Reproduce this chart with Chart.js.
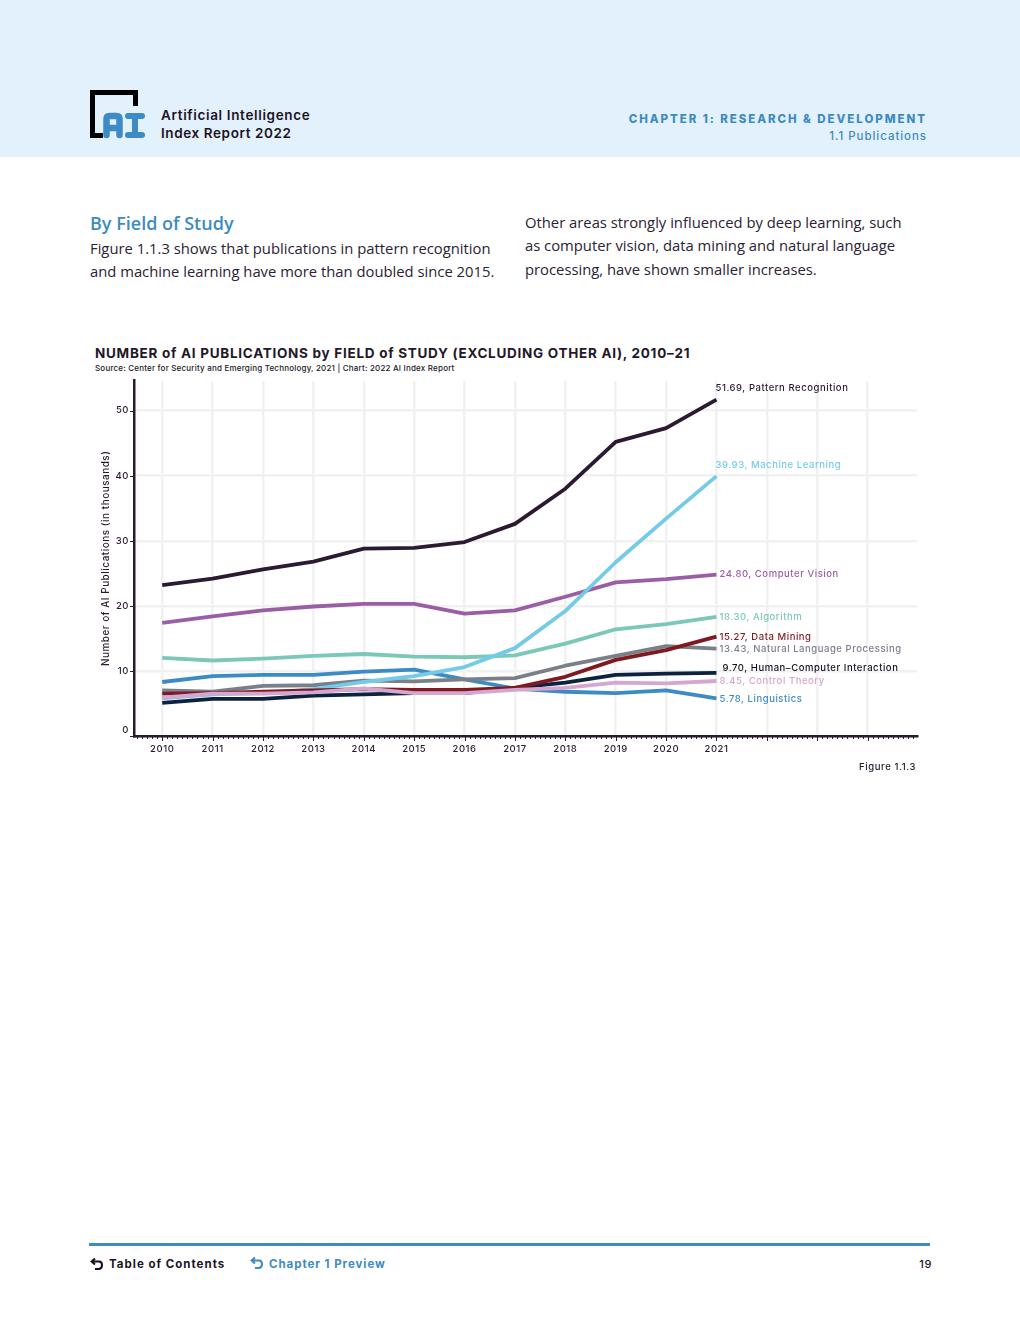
<!DOCTYPE html>
<html>
<head>
<meta charset="utf-8">
<title>AI Index Report 2022</title>
<script src="https://cdn.jsdelivr.net/npm/chart.js@4"></script>
<style>
  html, body { margin: 0; padding: 0; background: #fff; }
  body { position: relative; width: 1020px; height: 1320px; overflow: hidden; font-family: Inter, sans-serif; }
  .t { position: absolute; white-space: nowrap; line-height: 1; }
  .band { position: absolute; left: 0; top: 0; width: 1020px; height: 157px; background: #e3f1fc; }
  .body { font-family: "Open Sans", sans-serif; font-size: 14.8px; color: #2b2233; }
  .foot { position: absolute; left: 89px; top: 1243px; width: 841px; height: 3px; background: #3d8bbf; }
  #wrap { position: absolute; left: 90px; top: 370px; width: 840px; height: 400px; }
</style>
</head>
<body>
<div class="band"></div>
<svg style="position:absolute;left:88px;top:88px" width="60" height="54">
  <path d="M15 47.5H4.5V4.5H47.5V18" fill="none" stroke="#000" stroke-width="5"/>
  <path d="M18.5 47V31q0-3 3-3h7q3 0 3 3v16M18.5 40h13" fill="none" stroke="#3d8bc4" stroke-width="6.5" stroke-linecap="round"/>
  <path d="M40 28h14M40 47h14M47 28v19" fill="none" stroke="#3d8bc4" stroke-width="6" stroke-linecap="round"/>
</svg>
<div class="t" style="left:161px;top:109px;font-size:13.5px;font-weight:600;color:#1c1424;letter-spacing:.65px">Artificial Intelligence</div>
<div class="t" style="left:161px;top:127px;font-size:13.5px;font-weight:600;color:#1c1424;letter-spacing:.6px">Index Report 2022</div>
<div class="t" style="right:93px;top:114px;font-size:11.5px;font-weight:800;color:#3d8bc0;letter-spacing:1.95px">CHAPTER 1: RESEARCH &amp; DEVELOPMENT</div>
<div class="t" style="right:93px;top:131px;font-size:11.5px;font-weight:500;color:#3d8bc0;letter-spacing:.95px">1.1 Publications</div>

<div class="t" style="left:90px;top:214px;font-family:'Open Sans',sans-serif;font-size:18px;font-weight:600;color:#3d8bc0">By Field of Study</div>
<div class="t body" style="left:90px;top:241px">Figure 1.1.3 shows that publications in pattern recognition</div>
<div class="t body" style="left:90px;top:264px">and machine learning have more than doubled since 2015.</div>
<div class="t body" style="left:525px;top:215px">Other areas strongly influenced by deep learning, such</div>
<div class="t body" style="left:525px;top:238px">as computer vision, data mining and natural language</div>
<div class="t body" style="left:525px;top:262px">processing, have shown smaller increases.</div>

<div class="t" style="left:95px;top:347px;font-size:13.5px;font-weight:700;color:#231728;letter-spacing:.72px">NUMBER of AI PUBLICATIONS by FIELD of STUDY (EXCLUDING OTHER AI), 2010–21</div>
<div class="t" style="left:95px;top:364px;font-size:8px;font-weight:500;color:#231728;letter-spacing:.2px">Source: Center for Security and Emerging Technology, 2021 | Chart: 2022 AI Index Report</div>

<div id="wrap"><canvas id="chart" width="840" height="400"></canvas></div>

<div class="t" style="right:104px;top:762px;font-size:9.5px;font-weight:500;color:#231728;letter-spacing:.6px">Figure 1.1.3</div>

<div class="foot"></div>
<svg style="position:absolute;left:90px;top:1257px" width="16" height="14">
  <path d="M5 1.5 1.5 4.5 5 7.5M2 4.5h7q3 0 3 3.5T9 12H5" fill="none" stroke="#15101c" stroke-width="2"/>
</svg>
<div class="t" style="left:109px;top:1259px;font-size:11.5px;font-weight:700;color:#1c1424;letter-spacing:1px">Table of Contents</div>
<svg style="position:absolute;left:250px;top:1256px" width="16" height="15">
  <path d="M5 1.5 1.5 4.5 5 7.5M2 4.5h7q3 0 3 3.5T9 12H5" fill="none" stroke="#3d8bc0" stroke-width="2"/>
</svg>
<div class="t" style="left:269px;top:1259px;font-size:11.5px;font-weight:700;color:#3d8bc0;letter-spacing:.95px">Chapter 1 Preview</div>
<div class="t" style="right:88px;top:1259px;font-size:11px;font-weight:500;color:#1c1424;letter-spacing:.6px">19</div>

<script>
var years = [2010, 2011, 2012, 2013, 2014, 2015, 2016, 2017, 2018, 2019, 2020, 2021];
var yTicks = [0, 10, 20, 30, 40, 50];

var patternRecognition = [23.2, 24.2, 25.6, 26.8, 28.8, 28.9, 29.8, 32.6, 38.0, 45.2, 47.3, 51.69];
var machineLearning = [5.8, 6.4, 6.6, 7.2, 8.3, 9.2, 10.6, 13.5, 19.2, 26.7, 33.4, 39.93];
var computerVision = [17.4, 18.4, 19.3, 19.9, 20.3, 20.3, 18.8, 19.3, 21.4, 23.6, 24.1, 24.80];
var algorithm = [12.0, 11.6, 11.9, 12.3, 12.6, 12.2, 12.1, 12.4, 14.2, 16.4, 17.2, 18.30];
var dataMining = [6.5, 6.6, 6.8, 7.0, 7.2, 7.1, 7.1, 7.4, 9.1, 11.7, 13.2, 15.27];
var nlp = [7.0, 6.8, 7.7, 7.8, 8.5, 8.4, 8.7, 8.9, 10.8, 12.3, 13.8, 13.43];
var hci = [5.1, 5.7, 5.7, 6.2, 6.4, 6.6, 6.6, 7.4, 8.2, 9.4, 9.6, 9.70];
var controlTheory = [5.9, 6.5, 6.5, 6.7, 7.3, 6.6, 6.6, 7.1, 7.4, 8.2, 8.1, 8.45];
var linguistics = [8.3, 9.2, 9.4, 9.4, 9.9, 10.2, 8.7, 7.3, 6.8, 6.6, 7.0, 5.78];

// back to front, chart.js draws the last dataset first so this gets reversed below
var series = [
  { name: 'Pattern Recognition', values: patternRecognition, color: '#2c1a33', nudgeX: -1, nudgeY: -11 },
  { name: 'Computer Vision', values: computerVision, color: '#9b5ea6', nudgeX: 3, nudgeY: 0 },
  { name: 'Algorithm', values: algorithm, color: '#7bc8b8', nudgeX: 3, nudgeY: 0 },
  { name: 'Linguistics', values: linguistics, color: '#3d8bc4', nudgeX: 3, nudgeY: 1 },
  { name: 'Natural Language Processing', values: nlp, color: '#7a7f8a', nudgeX: 3, nudgeY: 1 },
  { name: 'Machine Learning', values: machineLearning, color: '#74cbe8', nudgeX: -1, nudgeY: -11 },
  { name: 'Human–Computer Interaction', values: hci, color: '#0c2340', nudgeX: 6, nudgeY: -5 },
  { name: 'Data Mining', values: dataMining, color: '#7f1a22', nudgeX: 3, nudgeY: 1 },
  { name: 'Control Theory', values: controlTheory, color: '#d5a6cf', nudgeX: 3, nudgeY: 0 }
];
var labelColors = { 'Human–Computer Interaction': '#15101c' };

var inkColor = '#2a1a2e';
var chartFont = 'Inter, sans-serif';

var endLabels = {
  id: 'endLabels',
  beforeDraw: function (chart) {
    chart.ctx.letterSpacing = '0.55px';
  },
  afterDraw: function (chart) {
    var ctx = chart.ctx, sx = chart.scales.x, sy = chart.scales.y, area = chart.chartArea;
    ctx.save();
    // minor and major tick marks under the x axis line
    ctx.strokeStyle = inkColor;
    ctx.lineWidth = 1;
    for (var i = 0; ; i++) {
      var v = 2010 + i * 0.1 - 0.5;
      if (v > sx.max) break;
      var major = i % 10 === 5;
      var px = Math.round(sx.getPixelForValue(v)) + 0.5;
      ctx.beginPath();
      ctx.moveTo(px, area.bottom);
      ctx.lineTo(px, area.bottom + (major ? 5 : 3));
      ctx.stroke();
    }
    // y tick marks
    yTicks.forEach(function (t) {
      var py = Math.round(sy.getPixelForValue(t)) + 0.5;
      ctx.beginPath();
      ctx.moveTo(area.left - 4, py);
      ctx.lineTo(area.left, py);
      ctx.stroke();
    });
    // the 0 label sits above its tick in the original
    ctx.font = '500 9.5px ' + chartFont;
    ctx.fillStyle = inkColor;
    ctx.textAlign = 'right';
    ctx.textBaseline = 'middle';
    ctx.fillText('0', area.left - 5, sy.getPixelForValue(0) - 6);
    // end of line labels
    ctx.textAlign = 'left';
    ctx.font = '500 9.5px ' + chartFont;
    series.forEach(function (s) {
      var last = s.values[s.values.length - 1];
      var x = sx.getPixelForValue(years[years.length - 1]) + s.nudgeX;
      var y = sy.getPixelForValue(last) + s.nudgeY;
      ctx.fillStyle = labelColors[s.name] || s.color;
      ctx.fillText(last.toFixed(2) + ', ' + s.name, x, y);
    });
    ctx.restore();
  }
};

new Chart(document.getElementById('chart').getContext('2d'), {
  type: 'line',
  plugins: [endLabels],
  data: {
    datasets: series.slice().reverse().map(function (s) {
      return {
        label: s.name,
        data: years.map(function (y, i) { return { x: y, y: s.values[i] }; }),
        borderColor: s.color,
        borderWidth: 3.8,
        pointRadius: 0,
        tension: 0,
        borderCapStyle: 'butt',
        borderJoinStyle: 'round'
      };
    })
  },
  options: {
    responsive: false,
    animation: false,
    layout: { padding: { top: 10, right: 13, left: 0, bottom: 0 } },
    plugins: { legend: { display: false }, tooltip: { enabled: false } },
    scales: {
      x: {
        type: 'linear',
        min: 2009.44,
        max: 2024.98,
        afterBuildTicks: function (scale) {
          scale.ticks = [];
          for (var y = 2010; y <= 2024; y++) scale.ticks.push({ value: y });
        },
        afterFit: function (scale) { scale.height = 34; },
        grid: { color: '#f1f1f2', lineWidth: 2.5, drawTicks: false, drawOnChartArea: true },
        border: { display: true, color: inkColor, width: 2.5 },
        ticks: {
          autoSkip: false,
          maxRotation: 0,
          padding: 7,
          color: inkColor,
          font: { family: chartFont, size: 9.5, weight: '500' },
          callback: function (v) { return years.indexOf(v) >= 0 ? String(v) : ''; }
        }
      },
      y: {
        min: 0,
        max: 54.6,
        afterBuildTicks: function (scale) {
          scale.ticks = yTicks.map(function (t) { return { value: t }; });
        },
        afterFit: function (scale) { scale.width = 44; },
        title: {
          display: true,
          text: 'Number of AI Publications (in thousands)',
          color: inkColor,
          padding: { top: 10, bottom: 0 },
          font: { family: chartFont, size: 9.9, weight: '500' }
        },
        grid: { color: '#f1f1f2', lineWidth: 2.5, drawTicks: false },
        border: { display: true, color: inkColor, width: 2.5 },
        ticks: {
          padding: 5,
          color: inkColor,
          font: { family: chartFont, size: 9.5, weight: '500' },
          callback: function (v) { return v === 0 ? '' : String(v); }
        }
      }
    }
  }
});
</script>
</body>
</html>
